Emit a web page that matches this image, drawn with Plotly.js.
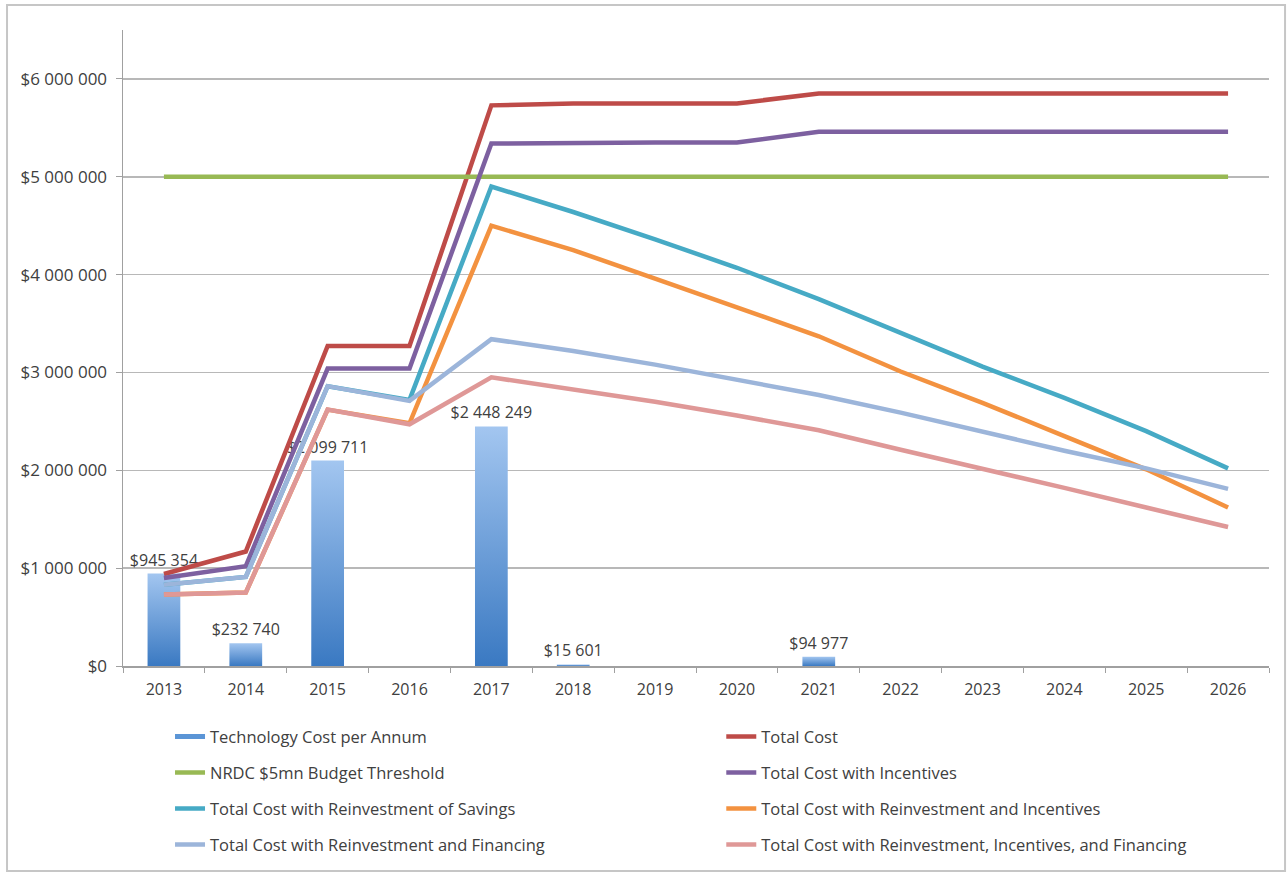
<!DOCTYPE html>
<html>
<head>
<meta charset="utf-8">
<script src="https://cdn.plot.ly/plotly-3.0.1.min.js"></script>
<style>
  html, body { margin: 0; padding: 0; background: #ffffff; }
  #chart { width: 1288px; height: 874px; }
</style>
</head>
<body>
<div id="chart"></div>
<script>
// Category axis: project years
const years = ['2013', '2014', '2015', '2016', '2017', '2018', '2019',
               '2020', '2021', '2022', '2023', '2024', '2025', '2026'];

// Technology spend in each year (blank years have no spend entry)
const techCost = [945354, 232740, 2099711, null, 2448249, 15601, null,
                  null, 94977, null, null, null, null, null];

// Cumulative cost scenarios, USD
const totalCost = [940000, 1170000, 3270000, 3270000, 5730000, 5750000, 5750000,
                   5750000, 5850000, 5850000, 5850000, 5850000, 5850000, 5850000];
const budgetThreshold = [5000000, 5000000, 5000000, 5000000, 5000000, 5000000, 5000000,
                         5000000, 5000000, 5000000, 5000000, 5000000, 5000000, 5000000];
const costWithIncentives = [900000, 1020000, 3040000, 3040000, 5340000, 5350000, 5350000,
                            5350000, 5460000, 5460000, 5460000, 5460000, 5460000, 5460000];
const costReinvestSavings = [830000, 910000, 2860000, 2720000, 4900000, 4640000, 4360000,
                             4070000, 3750000, 3400000, 3060000, 2740000, 2400000, 2020000];
const costReinvestIncentives = [730000, 750000, 2620000, 2480000, 4500000, 4250000, 3960000,
                                3670000, 3370000, 3010000, 2690000, 2350000, 2010000, 1620000];
const costReinvestFinancing = [830000, 910000, 2860000, 2710000, 3340000, 3220000, 3080000,
                               2930000, 2770000, 2590000, 2390000, 2200000, 2020000, 1810000];
const costReinvestIncFinancing = [730000, 750000, 2620000, 2470000, 2950000, 2830000, 2700000,
                                  2560000, 2410000, 2210000, 2020000, 1820000, 1620000, 1420000];

const seriesNames = [
  'Technology Cost per Annum',
  'Total Cost',
  'NRDC $5mn Budget Threshold',
  'Total Cost with Incentives',
  'Total Cost with Reinvestment of Savings',
  'Total Cost with Reinvestment and Incentives',
  'Total Cost with Reinvestment and Financing',
  'Total Cost with Reinvestment, Incentives, and Financing'
];

const FONT = '"Open Sans", Lato, "DejaVu Sans", sans-serif';
const TEXT_COLOR = '#404040';
const LINE_W = 4.5;

function lineTrace(name, values, color, legendId) {
  return {
    type: 'scatter', mode: 'lines', name: name,
    x: years, y: values,
    line: { color: color, width: LINE_W },
    legend: legendId, legendgroup: name,
    hoverinfo: 'skip'
  };
}

const traces = [
  {
    type: 'bar', name: seriesNames[0],
    x: years, y: techCost,
    marker: { color: '#5b95d6', line: { width: 0 } },
    texttemplate: '%{y:$,.0f}',
    textposition: 'outside',
    constraintext: 'none',
    cliponaxis: false,
    textfont: { family: FONT, size: 16, color: TEXT_COLOR },
    legend: 'legend', legendgroup: seriesNames[0],
    hoverinfo: 'skip'
  },
  lineTrace(seriesNames[1], totalCost, '#be4b48', 'legend2'),
  lineTrace(seriesNames[2], budgetThreshold, '#98b954', 'legend'),
  lineTrace(seriesNames[3], costWithIncentives, '#7d60a0', 'legend2'),
  lineTrace(seriesNames[4], costReinvestSavings, '#46aac5', 'legend'),
  lineTrace(seriesNames[5], costReinvestIncentives, '#f39240', 'legend2'),
  lineTrace(seriesNames[6], costReinvestFinancing, '#9cb5da', 'legend'),
  lineTrace(seriesNames[7], costReinvestIncFinancing, '#df9897', 'legend2')
];

const legendCommon = {
  orientation: 'v',
  xref: 'container', yref: 'container',
  xanchor: 'left', yanchor: 'top',
  y: 0.177,
  bgcolor: 'rgba(0,0,0,0)',
  borderwidth: 0,
  tracegroupgap: 11.5,
  font: { family: FONT, size: 16.5, color: TEXT_COLOR },
  itemclick: false, itemdoubleclick: false
};

const layout = {
  width: 1288, height: 874,
  margin: { l: 123, r: 19, t: 30, b: 208, pad: 0, autoexpand: false },
  paper_bgcolor: '#ffffff',
  plot_bgcolor: '#ffffff',
  separators: '. ',
  font: { family: FONT, size: 15, color: TEXT_COLOR },
  bargap: 0.6,
  showlegend: true,
  xaxis: {
    type: 'category',
    range: [-0.5, 13.5],
    showline: true, linecolor: '#a0a0a0', linewidth: 1.5,
    ticks: 'outside', tickson: 'boundaries', ticklen: 5,
    tickcolor: '#a0a0a0',
    tickangle: 0,
    ticklabelstandoff: 8,
    showgrid: false, zeroline: false,
    tickfont: { family: FONT, size: 16, color: TEXT_COLOR }
  },
  yaxis: {
    range: [0, 6500000],
    dtick: 1000000, tick0: 0,
    tickformat: '$,.0f',
    showline: true, linecolor: '#a0a0a0', linewidth: 1.5,
    ticks: 'outside', ticklen: 6, tickcolor: '#a0a0a0',
    ticklabelstandoff: 5,
    showgrid: true, gridcolor: '#b8b8b8', gridwidth: 1.5,
    zeroline: false,
    tickfont: { family: FONT, size: 17, color: TEXT_COLOR }
  },
  legend: Object.assign({}, legendCommon, { x: 0.132 }),
  legend2: Object.assign({}, legendCommon, { x: 0.560 }),
  shapes: [{
    // outer chart frame
    type: 'rect', xref: 'paper', yref: 'paper',
    x0: -0.1012, x1: 1.014, y0: -0.3223, y1: 1.0393,
    line: { color: '#c6c6c6', width: 2 },
    fillcolor: 'rgba(0,0,0,0)',
    layer: 'below'
  }]
};

Plotly.newPlot('chart', traces, layout, { staticPlot: true, displayModeBar: false })
  .then(function (gd) {
    // vertical light-to-dark shading on the technology cost bars
    const svg = gd.querySelector('.main-svg');
    const ns = 'http://www.w3.org/2000/svg';
    let defs = svg.querySelector('defs');
    if (!defs) { defs = document.createElementNS(ns, 'defs'); svg.insertBefore(defs, svg.firstChild); }
    const grad = document.createElementNS(ns, 'linearGradient');
    grad.setAttribute('id', 'techBarShade');
    grad.setAttribute('x1', '0'); grad.setAttribute('y1', '0');
    grad.setAttribute('x2', '0'); grad.setAttribute('y2', '1');
    [['0%', '#a3c6f0'], ['100%', '#3a79c2']].forEach(function (s) {
      const stop = document.createElementNS(ns, 'stop');
      stop.setAttribute('offset', s[0]);
      stop.setAttribute('stop-color', s[1]);
      grad.appendChild(stop);
    });
    defs.appendChild(grad);
    gd.querySelectorAll('.barlayer .point path').forEach(function (p) {
      p.style.fill = 'url(#techBarShade)';
    });
    // bar key drawn as a flat strip, the same length as the line keys
    gd.querySelectorAll('.legend .legendpoints path.legendundefined, .legend .legendbar path, .legend .legendpoints .legendbar path')
      .forEach(function (p) {
        p.setAttribute('d', 'M15,2.5H-15V-2.5H15Z');
        p.style.fill = '#5b95d6';
      });
  });
</script>
</body>
</html>
